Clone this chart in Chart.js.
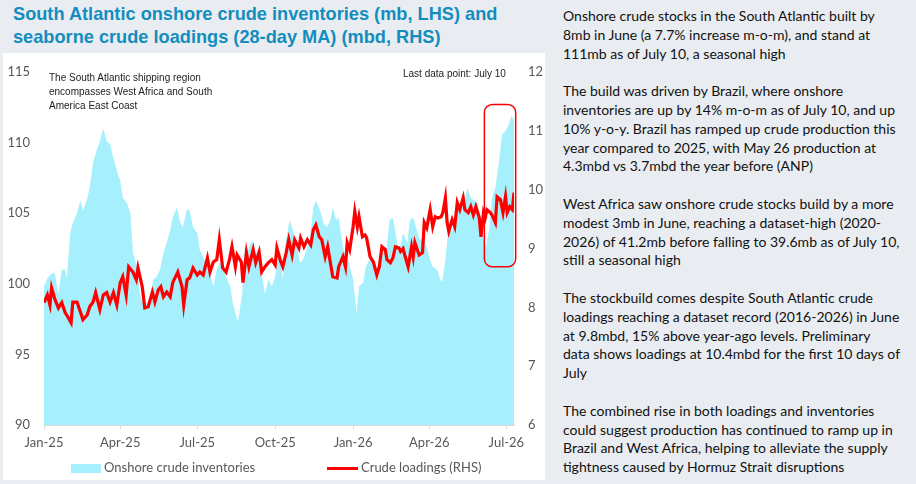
<!DOCTYPE html>
<html lang="en">
<head>
<meta charset="UTF-8">
<title>South Atlantic crude</title>
<script src="https://cdn.jsdelivr.net/npm/chart.js"></script>
<style>
    body { margin:0; width:916px; height:484px; background:#e9edf1; position:relative; overflow:hidden; font-family:Lato, sans-serif; }
    .title { position:absolute; left:13px; top:3px; font:bold 18.2px/23px "Liberation Sans", Arial, sans-serif; color:#138dbf; white-space:nowrap; }
    .panel { position:absolute; left:3px; top:53px; width:542px; height:427px; background:#fff; }
    .wrap { position:absolute; left:0; top:0; width:545px; height:480px; }
    .note { position:absolute; font:10px/14px "Liberation Sans", Arial, sans-serif; color:#222; white-space:nowrap; }
    .leg { position:absolute; top:459px; font-size:13px; line-height:16px; color:#595959; white-space:nowrap; }
    .leg i { display:inline-block; vertical-align:middle; margin-right:3px; }
    .side { position:absolute; left:563px; top:7px; font-size:14px; line-height:18.8px; color:#111; white-space:nowrap; }
    .side p { margin:0 0 18.8px 0; }
</style>
</head>
<body>
    <div class="title">South Atlantic onshore crude inventories (mb, LHS) and<br>seaborne crude loadings (28-day MA) (mbd, RHS)</div>
    <div class="panel"></div>
    <div class="wrap"><canvas id="myChart"></canvas></div>
    <div class="note" style="left:49px; top:71px;">The South Atlantic shipping region<br>encompasses West Africa and South<br>America East Coast</div>
    <div class="note" style="left:403px; top:67px;">Last data point: July 10</div>
    <div class="leg" style="left:71px;"><i style="width:30px;height:9px;background:#a5f0fc;"></i>Onshore crude inventories</div>
    <div class="leg" style="left:327px;"><i style="width:31px;height:3px;background:#ff0000;"></i>Crude loadings (RHS)</div>

    <div class="side">
        <p>Onshore crude stocks in the South Atlantic built by<br>8mb in June (a 7.7% increase m-o-m), and stand at<br>111mb as of July 10, a seasonal high</p>
        <p>The build was driven by Brazil, where onshore<br>inventories are up by 14% m-o-m as of July 10, and up<br>10% y-o-y. Brazil has ramped up crude production this<br>year compared to 2025, with May 26 production at<br>4.3mbd vs 3.7mbd the year before (ANP)</p>
        <p>West Africa saw onshore crude stocks build by a more<br>modest 3mb in June, reaching a dataset-high (2020-<br>2026) of 41.2mb before falling to 39.6mb as of July 10,<br>still a seasonal high</p>
        <p>The stockbuild comes despite South Atlantic crude<br>loadings reaching a dataset record (2016-2026) in June<br>at 9.8mbd, 15% above year-ago levels. Preliminary<br>data shows loadings at 10.4mbd for the first 10 days of<br>July</p>
        <p>The combined rise in both loadings and inventories<br>could suggest production has continued to ramp up in<br>Brazil and West Africa, helping to alleviate the supply<br>tightness caused by Hormuz Strait disruptions</p>
    </div>

<script>
    // x = days since 1 Jan 2025 (last point: 10 Jul 2026 = day 555)
    var tickDays   = [0, 90, 181, 273, 365, 455, 546];
    var tickLabels = ["Jan-25", "Apr-25", "Jul-25", "Oct-25", "Jan-26", "Apr-26", "Jul-26"];

    // onshore crude inventories, mb (LHS)
    var invDays = [0,4,7,11,13,17,21,25,27,31,34,39,43,46,51,54,58,63,66,70,74,78,82,86,90,93,98,102,105,110,
        113,117,122,125,129,133,137,141,145,149,152,157,161,164,169,172,176,181,184,188,193,196,200,204,208,211,216,220,223,229,
        234,237,241,246,249,253,257,261,265,269,273,276,279,282,285,290,294,299,302,306,311,314,318,321,326,330,334,338,341,345,
        348,353,357,360,365,369,372,377,380,384,389,392,396,400,404,408,412,416,419,424,429,432,436,441,444,448,452,456,459,464,
        468,470,474,477,482,485,489,494,497,500,504,508,511,516,519,522,526,529,533,537,541,545,549,552,555];
    var invValues = [99.8,100.4,100.6,100.8,100.7,99.3,101.0,101.0,100.4,103.6,104.3,105.0,105.9,105.2,106.0,106.8,108.6,109.6,110.1,111.0,
        110.1,109.9,108.9,108.0,107.3,106.1,105.7,105.0,102.2,101.2,99.3,98.6,98.6,99.0,100.3,100.5,101.0,102.2,102.9,103.8,
        104.7,105.4,104.3,104.0,105.3,105.2,104.0,103.6,102.4,101.9,101.2,100.7,99.8,101.0,101.5,101.2,100.3,99.8,98.6,97.3,
        99.3,102.6,102.4,103.1,102.2,102.2,100.7,99.3,100.3,99.8,100.5,101.7,102.2,100.3,102.8,104.5,103.8,102.6,101.5,101.7,
        102.6,103.1,105.4,105.9,105.2,104.3,104.0,104.5,105.4,104.5,104.7,102.6,101.7,101.5,100.3,97.9,99.8,100.1,101.2,101.7,
        101.7,101.0,101.7,102.6,102.2,104.5,104.7,103.3,102.2,103.6,102.9,104.5,104.7,103.6,103.1,103.3,102.6,101.7,101.2,101.0,
        100.3,100.1,101.7,103.6,103.8,105.0,105.2,105.4,105.9,106.8,106.1,105.9,105.7,104.7,103.1,102.6,104.0,106.1,106.8,108.5,
        110.6,110.8,111.3,111.9,111.6];

    // seaborne crude loadings, 28-day MA, mbd (RHS)
    var loadDays = [0,4,7,9,13,17,21,25,28,32,34,39,43,46,51,54,58,61,66,70,74,78,82,86,90,93,97,100,105,109,
        111,116,119,123,128,131,135,138,141,145,149,152,158,163,165,169,172,176,181,184,188,193,196,200,204,207,211,215,219,222,
        226,228,233,235,239,242,247,250,254,257,261,265,269,273,275,279,282,286,289,293,296,301,303,307,311,315,318,321,325,328,
        332,335,339,341,346,348,353,356,358,361,365,367,370,372,376,379,381,385,389,393,396,399,403,405,409,412,415,419,421,424,
        426,430,434,436,438,443,447,449,452,456,459,462,465,469,471,474,476,478,482,485,488,491,495,497,501,504,507,510,514,516,
        519,521,523,527,529,533,535,539,542,545,547,550,553,555];
    var loadValues = [8.08,8.21,8.04,8.33,8.13,7.99,8.08,7.91,7.84,7.74,8.09,8.09,7.92,7.79,7.87,8.01,8.09,8.25,7.96,8.21,
        8.25,8.09,8.25,8.04,8.42,8.52,8.21,8.69,8.60,8.47,8.67,8.35,7.99,8.01,8.26,8.09,8.30,8.35,8.18,8.26,
        8.18,8.42,8.60,8.35,8.04,8.47,8.50,8.67,8.55,8.60,8.55,8.84,8.60,8.77,8.81,9.15,8.67,8.60,8.81,9.03,
        8.69,8.89,8.77,8.42,8.93,8.69,8.98,8.76,8.94,8.60,8.69,8.76,8.81,8.72,9.01,8.80,8.69,8.93,9.15,8.89,
        9.15,9.01,9.18,9.03,9.15,9.06,9.32,9.40,9.20,9.15,8.86,9.03,8.69,8.52,8.50,8.69,8.86,8.69,9.10,8.98,
        9.37,9.63,9.37,9.54,9.20,9.23,9.18,8.86,8.77,8.55,8.69,9.03,8.98,8.81,8.76,8.84,9.03,9.01,8.95,9.00,
        8.89,8.69,9.03,8.86,9.10,8.89,8.93,9.44,9.35,9.66,9.37,9.54,9.52,9.54,9.61,9.86,9.44,9.29,9.49,9.37,
        9.78,9.66,9.86,9.66,9.61,9.71,9.57,9.71,9.52,9.20,9.61,9.52,9.66,9.61,9.57,9.44,9.88,9.83,9.61,9.88,
        9.61,9.71,9.66,9.95];

    // red highlight box (days / LHS values)
    var boxDays = [520, 557];
    var boxLevels = [101.2, 112.7];

    function f_points(p_days, p_vals){
        var v_pts = [];
        for(var i=0; i<p_days.length; i++){
            v_pts.push({x: p_days[i], y: p_vals[i]});
        }
        return v_pts;
    }

    var v_tickFont = {family: "Lato", size: 13};

    const highlightBox = {
        id: "highlightBox",
        afterDatasetsDraw(chart){
            var c = chart.ctx, sx = chart.scales.x, sy = chart.scales.y;
            var l = sx.getPixelForValue(boxDays[0]), r = sx.getPixelForValue(boxDays[1]);
            var t = sy.getPixelForValue(boxLevels[1]), b = sy.getPixelForValue(boxLevels[0]);
            c.save();
            c.strokeStyle = "#ff0000";
            c.lineWidth = 1.5;
            c.beginPath();
            c.roundRect(l, t, r - l, b - t, 8);
            c.stroke();
            c.restore();
        }
    };

    const ctx = document.getElementById('myChart').getContext('2d');
    const myChart = new Chart(ctx, {
        type: 'line',
        data: {
            datasets: [{
                    label: 'Crude loadings (RHS)',
                    data: f_points(loadDays, loadValues),
                    yAxisID: 'y1',
                    borderColor: '#ff0000',
                    borderWidth: 3.2,
                    pointRadius: 0,
                    fill: false,
                    order: 0
                },
                {
                    label: 'Onshore crude inventories',
                    data: f_points(invDays, invValues),
                    yAxisID: 'y',
                    borderWidth: 0,
                    borderColor: 'rgba(0,0,0,0)',
                    backgroundColor: '#a5f0fc',
                    pointRadius: 0,
                    fill: 'start',
                    order: 1
                }
            ]
        },
        options: {
            responsive: true,
            maintainAspectRatio: false,
            animation: false,
            layout: { padding: {top: 72, bottom: 25, left: 0, right: 0} },
            plugins: { legend: {display: false}, tooltip: {enabled: false} },
            scales: {
                x: {
                    type: 'linear', min: 0, max: 555,
                    afterBuildTicks: function(s){ s.ticks = tickDays.map(function(d){ return {value: d}; }); },
                    afterFit: function(s){ s.height = 30; },
                    ticks: {
                        autoSkip: false, maxRotation: 0, padding: 6, color: '#595959', font: v_tickFont,
                        callback: function(v){ return tickLabels[tickDays.indexOf(v)]; }
                    },
                    grid: { display: true, drawOnChartArea: false, drawTicks: true, tickLength: 4, color: '#d9d9d9' },
                    border: { display: true, color: '#d9d9d9' }
                },
                y: {
                    position: 'left', min: 90, max: 115,
                    afterFit: function(s){ s.width = 44; },
                    ticks: { stepSize: 5, padding: 14, color: '#595959', font: v_tickFont },
                    grid: { display: false, drawTicks: false },
                    border: { display: false }
                },
                y1: {
                    position: 'right', min: 6, max: 12,
                    afterFit: function(s){ s.width = 31; },
                    ticks: { stepSize: 1, padding: 14, color: '#595959', font: v_tickFont },
                    grid: { display: false, drawTicks: false },
                    border: { display: false }
                }
            }
        },
        plugins: [highlightBox]
    });
</script>
</body>
</html>
